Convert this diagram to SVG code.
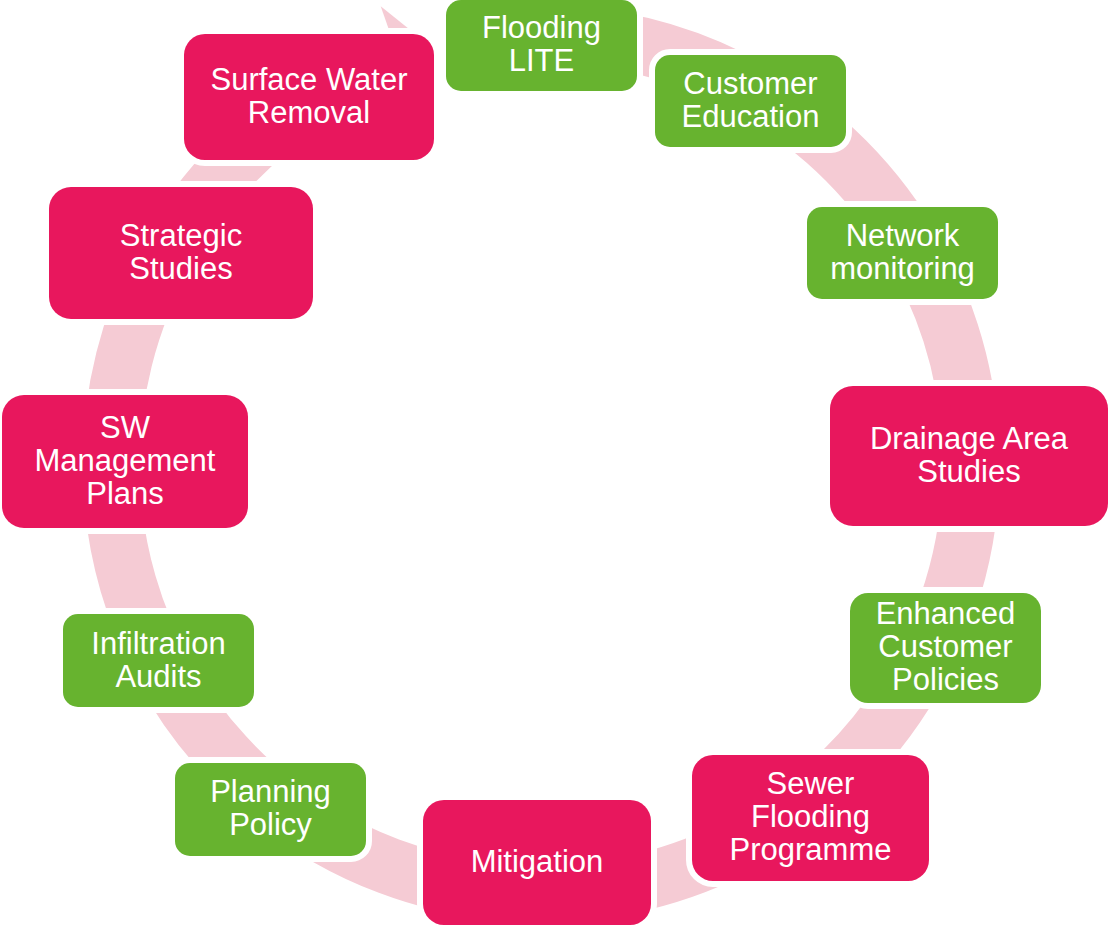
<svg xmlns="http://www.w3.org/2000/svg" width="1109" height="926" viewBox="0 0 1109 926">
<style>
.ring{fill:none;stroke:#F5CBD4;stroke-width:57}
.head{fill:#F5CBD4}
.g{fill:#67B32F;stroke:#fff;stroke-width:12;paint-order:stroke}
.r{fill:#E8175D;stroke:#fff;stroke-width:12;paint-order:stroke}
text{font-family:"Liberation Sans",Arial,sans-serif;font-size:31px;fill:#fff;text-anchor:middle}
</style>
<rect width="1109" height="926" fill="#fff"/>
<g id="connectors">
<path class="ring" d="M541,34 A430,430 0 1 1 400.6,57.6"/>
<polygon class="head" points="380.7,6.3 432.6,47.9 417.1,110.1"/>
</g>
<g id="n1"><rect class="g" x="446" y="0" width="191" height="91" rx="15"/><text x="541.5" y="38">Flooding</text><text x="541.5" y="71">LITE</text></g>
<g id="n2"><rect class="g" x="655" y="55" width="191" height="92" rx="15"/><text x="750.5" y="93.5">Customer</text><text x="750.5" y="126.5">Education</text></g>
<g id="n3"><rect class="g" x="807" y="207" width="191" height="92" rx="15"/><text x="902.5" y="245.5">Network</text><text x="902.5" y="278.5">monitoring</text></g>
<g id="n4"><rect class="r" x="830" y="386" width="278" height="140" rx="23"/><text x="969" y="448.5">Drainage Area</text><text x="969" y="481.5">Studies</text></g>
<g id="n5"><rect class="g" x="850" y="593" width="191" height="110" rx="18"/><text x="945.5" y="624">Enhanced</text><text x="945.5" y="657">Customer</text><text x="945.5" y="690">Policies</text></g>
<g id="n6"><rect class="r" x="692" y="755" width="237" height="126" rx="21"/><text x="810.5" y="794">Sewer</text><text x="810.5" y="827">Flooding</text><text x="810.5" y="860">Programme</text></g>
<g id="n7"><rect class="r" x="423" y="800" width="228" height="125" rx="21"/><text x="537" y="872">Mitigation</text></g>
<g id="n8"><rect class="g" x="175" y="763" width="191" height="93" rx="15"/><text x="270.5" y="802">Planning</text><text x="270.5" y="835">Policy</text></g>
<g id="n9"><rect class="g" x="63" y="614" width="191" height="93" rx="15"/><text x="158.5" y="654">Infiltration</text><text x="158.5" y="687">Audits</text></g>
<g id="n10"><rect class="r" x="2" y="395" width="246" height="133" rx="22"/><text x="125" y="438">SW</text><text x="125" y="471">Management</text><text x="125" y="504">Plans</text></g>
<g id="n11"><rect class="r" x="49" y="187" width="264" height="132" rx="22"/><text x="181" y="246">Strategic</text><text x="181" y="279">Studies</text></g>
<g id="n12"><rect class="r" x="184" y="34" width="250" height="126" rx="21"/><text x="309" y="90">Surface Water</text><text x="309" y="123">Removal</text></g>
</svg>
